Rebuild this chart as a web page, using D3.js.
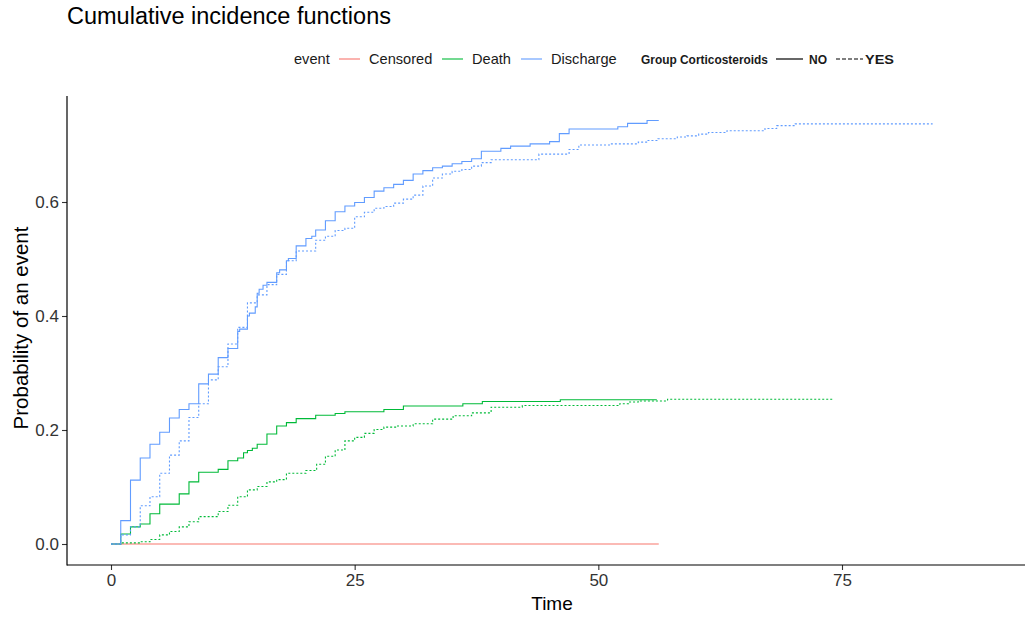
<!DOCTYPE html>
<html><head><meta charset="utf-8">
<script src="https://cdn.jsdelivr.net/npm/d3@7"></script>
<style>body{margin:0;background:#fff}svg{display:block;font-family:"Liberation Sans",Arial,sans-serif}</style>
</head><body><svg id="c" width="1025" height="618"></svg>
<script>
// ---- data ----
const xTicks = [0, 25, 50, 75];
const yTicks = [0.0, 0.2, 0.4, 0.6];
const eventNames = ["Censored", "Death", "Discharge"];
const groupNames = ["NO", "YES"];

const censNoT = [0, 56.2];
const censNoP = [0, 0];

const deathNoT = [0,1,2,3,4,5,7,8,9,11,12,13,13.6,14,14.5,15,16,17,18,19,21,23,24,28,30,36.1,38.1,46.1,56];
const deathNoP = [0,0.0175,0.030,0.035,0.053,0.070,0.088,0.109,0.126,0.131,0.146,0.151,0.160,0.164,0.168,0.175,0.193,0.207,0.213,0.220,0.226,0.229,0.232,0.236,0.242,0.246,0.250,0.253,0.253];

const deathYesT = [0,1,3,4,5,6,7,8,9,11,12,13,14,15,16,17,18,20,21.1,22,23,24,25,26,27,28,29.2,31,33,35.1,37,39,42.2,52.2,53.1,54.1,57.1,74.2];
const deathYesP = [0,0.002,0.004,0.008,0.016,0.022,0.030,0.039,0.048,0.057,0.068,0.083,0.095,0.101,0.109,0.113,0.124,0.129,0.140,0.154,0.165,0.181,0.187,0.194,0.201,0.205,0.207,0.211,0.219,0.225,0.230,0.240,0.243,0.246,0.249,0.251,0.254,0.254];

const discNoT = [0,1,2,3,4,5,6,7,8,9,10,11,12,13,13.2,14,14.2,14.8,15,15.2,15.6,16,17,17.3,18,18.2,19,20,20.6,21,22,23,24,25,26,27,28,29,30,31,32,33,34,35,36,37,38,40,41,43,45,46,47,52,53,55,56.2];
const discNoP = [0,0.041,0.112,0.151,0.175,0.196,0.221,0.236,0.246,0.281,0.298,0.327,0.343,0.373,0.377,0.400,0.405,0.416,0.440,0.447,0.454,0.459,0.476,0.481,0.497,0.501,0.523,0.536,0.540,0.551,0.567,0.583,0.593,0.599,0.608,0.619,0.625,0.631,0.638,0.649,0.655,0.660,0.663,0.667,0.671,0.676,0.689,0.694,0.698,0.702,0.706,0.720,0.728,0.732,0.738,0.743,0.743];

const discYesT = [0,1,2,3,4,5,6,7,8,9,10,11,12,13,14,15,16,17,18,19,21,22,23,24,25,26,27,28,29,30,31,32,33,34,35,36,37,38,39,43.9,47,48,51.2,54.1,55.1,56.1,58.1,59.1,60.3,61.3,63.2,67.1,68.3,70.2,84.3];
const discYesP = [0,0.016,0.030,0.067,0.083,0.124,0.156,0.181,0.222,0.246,0.288,0.311,0.351,0.380,0.423,0.437,0.455,0.473,0.497,0.514,0.533,0.540,0.550,0.554,0.574,0.582,0.589,0.592,0.598,0.605,0.612,0.628,0.642,0.649,0.654,0.657,0.663,0.669,0.674,0.684,0.692,0.700,0.702,0.705,0.708,0.711,0.714,0.716,0.719,0.722,0.725,0.729,0.734,0.737,0.737];

const colors = {Censored: "#F8766D", Death: "#00BA38", Discharge: "#619CFF"};

const series = [
  {event: "Censored", group: "NO", t: censNoT, p: censNoP},
  {event: "Death", group: "NO", t: deathNoT, p: deathNoP},
  {event: "Death", group: "YES", t: deathYesT, p: deathYesP},
  {event: "Discharge", group: "NO", t: discNoT, p: discNoP},
  {event: "Discharge", group: "YES", t: discYesT, p: discYesP}
];

// ---- layout ----
const svg = d3.select("#c");
const panel = {left: 67, right: 1025, top: 96, bottom: 565};
const x = d3.scaleLinear().domain([0, 75]).range([111, 842]);
const y = d3.scaleLinear().domain([0, 0.6]).range([544, 202]);

// title
svg.append("text").attr("x", 67).attr("y", 24).attr("font-size", 23.5).attr("fill", "#000")
  .text("Cumulative incidence functions");

// lines
const line = d3.line().x(d => x(d[0])).y(d => y(d[1])).curve(d3.curveStepAfter);
const g = svg.append("g");
series.forEach(s => {
  const pts = s.t.map((t, i) => [t, s.p[i]]);
  g.append("path").attr("d", line(pts)).attr("fill", "none")
    .attr("stroke", colors[s.event]).attr("stroke-width", 1.1)
    .attr("stroke-dasharray", s.group === "YES" ? "2,2" : null);
});

// axes
const axCol = "#333";
const yAx = svg.append("g").attr("transform", `translate(${panel.left},0)`)
  .call(d3.axisLeft(y).tickValues(yTicks).tickFormat(d3.format(".1f")).tickSize(5).tickPadding(3));
const xAx = svg.append("g").attr("transform", `translate(0,${panel.bottom})`)
  .call(d3.axisBottom(x).tickValues(xTicks).tickFormat(d3.format("d")).tickSize(5).tickPadding(4));
[yAx, xAx].forEach(a => {
  a.select(".domain").remove();
  a.selectAll(".tick line").attr("stroke", axCol).attr("stroke-width", 1.1);
  a.selectAll(".tick text").attr("fill", axCol).attr("font-size", 17)
    .attr("font-family", '"Liberation Sans", Arial, sans-serif');
});
svg.append("line").attr("x1", panel.left).attr("x2", panel.left).attr("y1", panel.top).attr("y2", panel.bottom + 0.5)
  .attr("stroke", "#000").attr("stroke-width", 1.2);
svg.append("line").attr("x1", panel.left).attr("x2", panel.right).attr("y1", panel.bottom).attr("y2", panel.bottom)
  .attr("stroke", "#000").attr("stroke-width", 1.2);

// axis titles
svg.append("text").attr("x", 552).attr("y", 610).attr("text-anchor", "middle").attr("font-size", 19).text("Time");
svg.append("text").attr("transform", "translate(28,328) rotate(-90)").attr("text-anchor", "middle")
  .attr("font-size", 20.5).text("Probability of an event");

// legend
const ly = 59;
const lg = svg.append("g").attr("font-size", 14.6).attr("fill", "#1a1a1a");
lg.append("text").attr("x", 294).attr("y", ly + 5).text("event");
const evKeys = [[339, 369], [442, 472], [521, 551]];
eventNames.forEach((e, i) => {
  lg.append("line").attr("x1", evKeys[i][0]).attr("x2", evKeys[i][0] + 21).attr("y1", ly).attr("y2", ly)
    .attr("stroke", colors[e]).attr("stroke-width", 1.1);
  lg.append("text").attr("x", evKeys[i][1]).attr("y", ly + 5).text(e);
});
const bold = {"font-family": '"Liberation Sans Narrow","Arial Narrow","Liberation Sans",sans-serif', "font-weight": "bold", "font-size": 13.5};
const gt = lg.append("text").attr("x", 641).attr("y", ly + 5).text("Group Corticosteroids")
  .attr("textLength", 127).attr("lengthAdjust", "spacingAndGlyphs");
Object.entries(bold).forEach(([k, v]) => gt.attr(k, v));
const grKeys = [[776, 809, 18], [836, 865, 29]];
groupNames.forEach((gname, i) => {
  lg.append("line").attr("x1", grKeys[i][0]).attr("x2", grKeys[i][0] + 27).attr("y1", ly).attr("y2", ly)
    .attr("stroke", "#000").attr("stroke-width", 1.2)
    .attr("stroke-dasharray", gname === "YES" ? "4,2" : null);
  const t = lg.append("text").attr("x", grKeys[i][1]).attr("y", ly + 5).text(gname)
    .attr("textLength", grKeys[i][2]).attr("lengthAdjust", "spacingAndGlyphs");
  Object.entries(bold).forEach(([k, v]) => t.attr(k, v));
});
</script></body></html>
